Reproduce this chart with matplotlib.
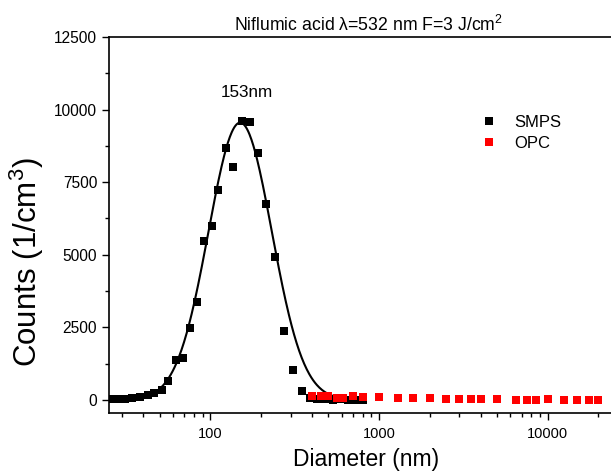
import matplotlib
matplotlib.use("Agg")
import matplotlib.pyplot as plt
import numpy as np
from matplotlib.ticker import FixedLocator, LogLocator, NullFormatter, FuncFormatter

plt.rcParams['font.family'] = ['Liberation Sans', 'DejaVu Sans']
plt.rcParams['mathtext.fontset'] = 'custom'
plt.rcParams['mathtext.rm'] = 'Liberation Sans'
plt.rcParams['mathtext.it'] = 'Liberation Sans'

# SMPS data (nm, 1/cm3)
smps_d = [25.1, 27.9, 31.0, 34.4, 38.2, 42.5, 46.5, 51.4, 56.3, 62.3, 68.5, 75.1,
          82.9, 91.7, 101.4, 111.1, 123.3, 136.9, 153.4, 172.0, 191.9, 214.9, 242.1,
          272.3, 307.8, 348.2, 386.9, 429.9, 477.5, 530.4, 589.3, 654.6, 727.3, 808.0]
smps_n = [15, 20, 30, 45, 80, 170, 230, 345, 650, 1380, 1435, 2490,
          3375, 5465, 5990, 7230, 8690, 8010, 9605, 9570, 8495, 6750, 4915,
          2375, 1010, 310, 60, 30, 20, 10, 15, 10, 10, 5]

# OPC data
opc_d = [400, 450, 500, 560, 610, 700, 800, 1000, 1300, 1600, 2000, 2500,
         3000, 3500, 4000, 5000, 6500, 7500, 8500, 10000, 12500, 15000, 17500, 20000]
opc_n = [114, 126, 114, 57, 57, 114, 92, 80, 46, 57, 46, 34,
         34, 34, 34, 23, 5, 5, 5, 11, 5, 5, 5, 5]

# log-normal fit parameters
fit_xc = 150.0
fit_w = 0.188   # sigma in log10 units
fit_a = 9550.0
fit_range = (25, 800)

fig = plt.figure(figsize=(6.11, 4.72), dpi=100)
ax = fig.add_axes([109 / 611, 59 / 472, 514 / 611, 376 / 472])

xf = np.logspace(np.log10(fit_range[0]), np.log10(fit_range[1]), 400)
yf = fit_a * np.exp(-(np.log10(xf / fit_xc)) ** 2 / (2 * fit_w ** 2))
ax.plot(xf, yf, color='black', lw=1.5, zorder=2)

ax.plot(smps_d, smps_n, 's', color='black', ms=5.8, mew=0, label='SMPS', zorder=3)
ax.plot(opc_d, opc_n, 's', color='red', ms=5.8, mew=0, label='OPC', zorder=4)

ax.set_xscale('log')
ax.set_xlim(25, 28000)
ax.set_ylim(-455, 12500)

ax.set_yticks([0, 2500, 5000, 7500, 10000, 12500])
ax.yaxis.set_minor_locator(FixedLocator([1250, 3750, 6250, 8750, 11250]))
ax.xaxis.set_major_locator(FixedLocator([100, 1000, 10000]))
ax.xaxis.set_major_formatter(FuncFormatter(lambda v, p: '%d' % v))
ax.xaxis.set_minor_locator(LogLocator(base=10, subs=np.arange(2, 10)))
ax.xaxis.set_minor_formatter(NullFormatter())

ax.tick_params(which='major', direction='out', length=5, width=1)
ax.tick_params(which='minor', direction='out', length=3, width=1)
ax.tick_params(axis='x', pad=5, labelsize=10.5)
ax.tick_params(axis='y', pad=3.5, labelsize=11.2)

for s in ['left', 'bottom', 'top']:
    ax.spines[s].set_linewidth(1.2)
ax.spines['right'].set_visible(False)

ax.set_xlabel('Diameter (nm)', fontsize=16.5, labelpad=5)
ax.set_ylabel('Counts (1/cm$^3$)', fontsize=22.5)
ax.yaxis.set_label_coords(-0.122, 0.40)

fig.text(369 / 611, 1 - 30.7 / 472, 'Niflumic acid \u03bb=532 nm F=3 J/cm$^2$',
         ha='center', va='baseline', fontsize=12.7)
ax.text(165, 10444, '153nm', ha='center', va='baseline', fontsize=12.3)

ax.legend(loc='upper left', bbox_to_anchor=(471 / 611, 1 - 107 / 472),
          bbox_transform=fig.transFigure, frameon=False, fontsize=12,
          handletextpad=0.9, labelspacing=0.35, markerscale=0.9, borderpad=0,
          handlelength=1.2)

fig.savefig('out.png', dpi=100)
